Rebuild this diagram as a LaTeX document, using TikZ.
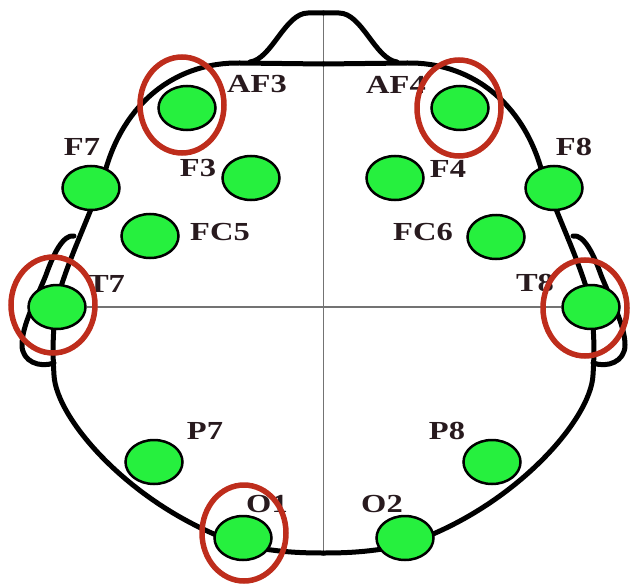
\documentclass[tikz,border=0pt]{standalone}
\usepackage{fontspec}
\newfontfamily\sitefont[FakeStretch=1.25]{Liberation Serif}
\usepackage{tikz}
\usetikzlibrary{
	shapes.geometric
}
\definecolor{sitegreen}{RGB}{38,240,62}
\definecolor{ringred}{RGB}{190,45,28}
\definecolor{inkbrown}{RGB}{40,26,30}
\tikzset{
	x=1pt, y=-1pt,
	site/.style={
		ellipse, draw=black, fill=sitegreen, line width=2.5pt,
		minimum width=57pt, minimum height=44pt, inner sep=0pt
	},
	sitename/.style={
		text=inkbrown, inner sep=0pt,
		font=\sitefont\bfseries\fontsize{26}{26}\selectfont
	},
	ring/.style={
		draw=ringred, line width=5.5pt
	},
	headline/.style={
		line width=5pt, line join=round, line cap=round
	},
	midline/.style={
		draw=black!55, line width=1.8pt
	}
}

\begin{document}
\begin{tikzpicture}
	\useasboundingbox (0,0) rectangle (631,588);

	% sagittal line, nose tip to back of the head
	\coordinate (nasion) at (323.5,13);
	\coordinate (inion)  at (323.5,553);
	\draw[midline] (nasion) -- (inion);

	% head outline, ear and nose: left half, then mirrored
	\foreach \s/\o in {1/0,-1/647} {
		\begin{scope}[shift={(\o,0)}, xscale=\s]
			\draw[headline] (323.5,64) -- (240,63)
				.. controls (180,62) and (128,98) .. (107,165)
				.. controls (95,205) and (72,250) .. (60,290)
				.. controls (53,318) and (52,345) .. (54,375)
				.. controls (56,420) and (135,510) .. (243,545)
				.. controls (275,552) and (300,553) .. (323.5,553);
			\draw[headline] (74,236)
				.. controls (63,234) and (53,255) .. (46,275)
				.. controls (36,300) and (22,325) .. (22,345)
				.. controls (22,362) and (40,368) .. (54,363);
			\draw[headline] (250,62)
				.. controls (272,59) and (285,13) .. (308,13) -- (323.5,13);
		\end{scope}
	}

	% electrode names
	\draw
		node[sitename] (af3n) at (257,84)  {AF3}
		node[sitename] (af4n) at (396,85)  {AF4}
		node[sitename] (f7n)  at (82,147)  {F7}
		node[sitename] (f3n)  at (198,168) {F3}
		node[sitename] (f4n)  at (448,169) {F4}
		node[sitename] (f8n)  at (574,147) {F8}
		node[sitename] (fc5n) at (220,232) {FC5}
		node[sitename] (fc6n) at (423,232) {FC6}
		node[sitename] (t7n)  at (106,284) {T7}
		node[sitename] (t8n)  at (535,283) {T8}
		node[sitename] (p7n)  at (205,431) {P7}
		node[sitename] (p8n)  at (447,431) {P8}
		node[sitename] (o1n)  at (267,504) {O1}
		node[sitename] (o2n)  at (382,504) {O2}
	;

	% electrodes
	\draw
		node[site] (af3) at (187,108) {}
		node[site] (af4) at (460,108) {}
		node[site] (f7)  at (91,188)  {}
		node[site] (f3)  at (251,178) {}
		node[site] (f4)  at (395,178) {}
		node[site] (f8)  at (554,188) {}
		node[site] (fc5) at (150,236) {}
		node[site] (fc6) at (496,237) {}
		node[site] (t7)  at (57,307)  {}
		node[site] (t8)  at (591,307) {}
		node[site] (p7)  at (154,462) {}
		node[site] (p8)  at (492,462) {}
		node[site] (o1)  at (243,538) {}
		node[site] (o2)  at (405,538) {}
	;

	% coronal line between the temporal sites
	\draw[midline] (t7.east) -- (t8.west);

	% selected channels
	\draw[ring] ([shift={(-5,-3)}]af3.center) ellipse [x radius=42, y radius=48];
	\draw[ring] ([shift={(-1,0)}]af4.center)  ellipse [x radius=42, y radius=48];
	\draw[ring] ([shift={(-4,-2)}]t7.center)  ellipse [x radius=42, y radius=48];
	\draw[ring] ([shift={(-6,1)}]t8.center)   ellipse [x radius=42, y radius=48];
	\draw[ring] ([shift={(1,-5)}]o1.center)   ellipse [x radius=42, y radius=48];
\end{tikzpicture}
\end{document}
